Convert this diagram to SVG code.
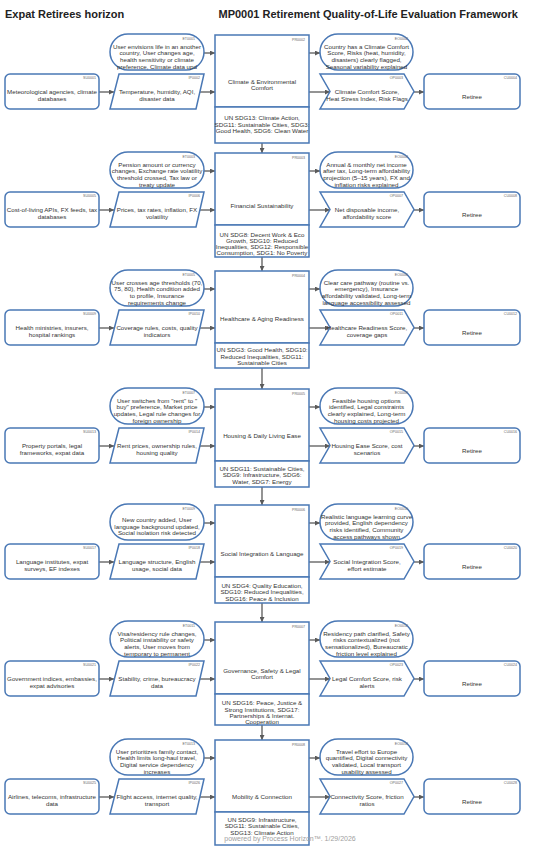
<svg xmlns="http://www.w3.org/2000/svg" width="546" height="846" viewBox="0 0 546 846">
<style>
.n{fill:#fff;stroke:#4a78b5;stroke-width:1.5}
.t{font-family:"Liberation Sans",Arial,sans-serif;font-size:6.2px;fill:#333;text-anchor:middle}
.id{font-family:"Liberation Sans",Arial,sans-serif;font-size:3.6px;fill:#666;text-anchor:end}
.h{font-family:"Liberation Sans",Arial,sans-serif;font-weight:bold;font-size:11px;fill:#222}
.c{stroke:#5a5a5a;stroke-width:1.3;fill:none;marker-end:url(#ah)}
.f{font-family:"Liberation Sans",Arial,sans-serif;font-size:7px;fill:#a0a0a0;text-anchor:middle}
</style>
<defs>
<marker id="ah" viewBox="0 0 6 6" refX="6" refY="3" markerWidth="5" markerHeight="5" markerUnits="userSpaceOnUse" orient="auto"><path d="M0,0L6,3L0,6z" fill="#5a5a5a"/></marker>
</defs>
<rect width="546" height="846" fill="#fff"/>
<text class="h" x="5" y="18">Expat Retirees horizon</text>
<text class="h" x="518" y="18" text-anchor="end">MP0001 Retirement Quality-of-Life Evaluation Framework</text>

<g id="connectors">
<g transform="translate(0,35)"><path class="c" d="M99,57H114"/><path class="c" d="M200,57H215"/><path class="c" d="M309,57H330"/><path class="c" d="M414,57H424"/><path class="c" d="M204,18H215"/><path class="c" d="M309,18H320"/><path class="c" d="M262,108V118"/></g>
<g transform="translate(0,153)"><path class="c" d="M99,57H114"/><path class="c" d="M200,57H215"/><path class="c" d="M309,57H330"/><path class="c" d="M414,57H424"/><path class="c" d="M204,18H215"/><path class="c" d="M309,18H320"/><path class="c" d="M262,104V118"/></g>
<g transform="translate(0,271)"><path class="c" d="M99,57H114"/><path class="c" d="M200,57H215"/><path class="c" d="M309,57H330"/><path class="c" d="M414,57H424"/><path class="c" d="M204,18H215"/><path class="c" d="M309,18H320"/><path class="c" d="M262,97V118"/></g>
<g transform="translate(0,389)"><path class="c" d="M99,57H114"/><path class="c" d="M200,57H215"/><path class="c" d="M309,57H330"/><path class="c" d="M414,57H424"/><path class="c" d="M204,18H215"/><path class="c" d="M309,18H320"/><path class="c" d="M262,98V116"/></g>
<g transform="translate(0,505)"><path class="c" d="M99,57H114"/><path class="c" d="M200,57H215"/><path class="c" d="M309,57H330"/><path class="c" d="M414,57H424"/><path class="c" d="M204,18H215"/><path class="c" d="M309,18H320"/><path class="c" d="M262,98V117"/></g>
<g transform="translate(0,622)"><path class="c" d="M99,57H114"/><path class="c" d="M200,57H215"/><path class="c" d="M309,57H330"/><path class="c" d="M414,57H424"/><path class="c" d="M204,18H215"/><path class="c" d="M309,18H320"/><path class="c" d="M262,103V118"/></g>
<g transform="translate(0,740)"><path class="c" d="M99,57H114"/><path class="c" d="M200,57H215"/><path class="c" d="M309,57H330"/><path class="c" d="M414,57H424"/><path class="c" d="M204,18H215"/><path class="c" d="M309,18H320"/></g>
</g>

<!-- Row 1 -->
<g transform="translate(0,35)">
<g id="ET0001"><rect class="n" x="110" y="-1" width="94" height="36" rx="18"/><text class="id" x="195" y="5">ET0001</text><text class="t"><tspan x="157" y="13.5">User envisions life in an another</tspan><tspan x="157" y="20.2">country, User changes age,</tspan><tspan x="157" y="26.9">health sensitivity or climate</tspan><tspan x="157" y="33.6">preference, Climate data upd</tspan></text></g>
<g id="PR0002"><rect class="n" x="215" y="0" width="94" height="72"/><text class="id" x="305" y="5.5">PR0002</text><text class="t"><tspan x="262" y="48.7">Climate &amp; Environmental</tspan><tspan x="262" y="55.3">Comfort</tspan></text></g>
<g id="SDG-1"><rect class="n" x="215" y="72" width="94" height="36"/><text class="t"><tspan x="262" y="85.3">UN SDG13: Climate Action,</tspan><tspan x="262" y="91.8">SDG11: Sustainable Cities, SDG3:</tspan><tspan x="262" y="98.3">Good Health, SDG6: Clean Water</tspan></text></g>
<g id="EO0002"><rect class="n" x="320" y="-1" width="93" height="36" rx="18"/><text class="id" x="408" y="5">EO0002</text><text class="t"><tspan x="366.5" y="13.5">Country has a Climate Comfort</tspan><tspan x="366.5" y="20.2">Score, Risks (heat, humidity,</tspan><tspan x="366.5" y="26.9">disasters) clearly flagged,</tspan><tspan x="366.5" y="33.6">Seasonal variability explained</tspan></text></g>
<g id="SU0001"><rect class="n" x="5" y="39" width="94" height="35" rx="5"/><text class="id" x="96" y="44">SU0001</text><text class="t"><tspan x="52" y="59.3">Meteorological agencies, climate</tspan><tspan x="52" y="66">databases</tspan></text></g>
<g id="IP0002"><polygon class="n" points="119,39 204,39 196,74 110,74"/><text class="id" x="200" y="44">IP0002</text><text class="t"><tspan x="157" y="59.3">Temperature, humidity, AQI,</tspan><tspan x="157" y="66">disaster data</tspan></text></g>
<g id="OP0003"><polygon class="n" points="320,39 404,39 414,56.5 404,74 320,74 330,56.5"/><text class="id" x="403" y="44">OP0003</text><text class="t"><tspan x="367" y="59.3">Climate Comfort Score,</tspan><tspan x="367" y="66">Heat Stress Index, Risk Flags</tspan></text></g>
<g id="CU0004"><rect class="n" x="424" y="39" width="96" height="35" rx="5"/><text class="id" x="517" y="44">CU0004</text><text class="t" x="472" y="63.5">Retiree</text></g>
</g>

<!-- Row 2 -->
<g transform="translate(0,153)">
<g id="ET0003"><rect class="n" x="110" y="-1" width="94" height="36" rx="18"/><text class="id" x="195" y="5">ET0003</text><text class="t"><tspan x="157" y="13.5">Pension amount or currency</tspan><tspan x="157" y="20.2">changes, Exchange rate volatility</tspan><tspan x="157" y="26.9">threshold crossed, Tax law or</tspan><tspan x="157" y="33.6">treaty update</tspan></text></g>
<g id="PR0003"><rect class="n" x="215" y="0" width="94" height="72"/><text class="id" x="305" y="5.5">PR0003</text><text class="t" x="262" y="54.7">Financial Sustainability</text></g>
<g id="SDG-2"><rect class="n" x="215" y="72" width="94" height="32"/><text class="t"><tspan x="262" y="84">UN SDG8: Decent Work &amp; Eco</tspan><tspan x="262" y="90">Growth, SDG10: Reduced</tspan><tspan x="262" y="96">Inequalities, SDG12: Responsible</tspan><tspan x="262" y="102">Consumption, SDG1: No Poverty</tspan></text></g>
<g id="EO0004"><rect class="n" x="320" y="-1" width="93" height="36" rx="18"/><text class="id" x="408" y="5">EO0004</text><text class="t"><tspan x="366.5" y="13.5">Annual &amp; monthly net income</tspan><tspan x="366.5" y="20.2">after tax, Long-term affordability</tspan><tspan x="366.5" y="26.9">projection (5–15 years), FX and</tspan><tspan x="366.5" y="33.6">inflation risks explained</tspan></text></g>
<g id="SU0005"><rect class="n" x="5" y="39" width="94" height="35" rx="5"/><text class="id" x="96" y="44">SU0005</text><text class="t"><tspan x="52" y="59.3">Cost-of-living APIs, FX feeds, tax</tspan><tspan x="52" y="66">databases</tspan></text></g>
<g id="IP0006"><polygon class="n" points="119,39 204,39 196,74 110,74"/><text class="id" x="200" y="44">IP0006</text><text class="t"><tspan x="157" y="59.3">Prices, tax rates, inflation, FX</tspan><tspan x="157" y="66">volatility</tspan></text></g>
<g id="OP0007"><polygon class="n" points="320,39 404,39 414,56.5 404,74 320,74 330,56.5"/><text class="id" x="403" y="44">OP0007</text><text class="t"><tspan x="367" y="59.3">Net disposable income,</tspan><tspan x="367" y="66">affordability score</tspan></text></g>
<g id="CU0008"><rect class="n" x="424" y="39" width="96" height="35" rx="5"/><text class="id" x="517" y="44">CU0008</text><text class="t" x="472" y="63.5">Retiree</text></g>
</g>

<!-- Row 3 -->
<g transform="translate(0,271)">
<g id="ET0005"><rect class="n" x="110" y="-1" width="94" height="36" rx="18"/><text class="id" x="195" y="5">ET0005</text><text class="t"><tspan x="157" y="13.5">User crosses age thresholds (70,</tspan><tspan x="157" y="20.2">75, 80), Health condition added</tspan><tspan x="157" y="26.9">to profile, Insurance</tspan><tspan x="157" y="33.6">requirements change</tspan></text></g>
<g id="PR0004"><rect class="n" x="215" y="0" width="94" height="72"/><text class="id" x="305" y="5.5">PR0004</text><text class="t" x="262" y="50.3">Healthcare &amp; Aging Readiness</text></g>
<g id="SDG-3"><rect class="n" x="215" y="72" width="94" height="25"/><text class="t"><tspan x="262" y="81">UN SDG3: Good Health, SDG10:</tspan><tspan x="262" y="87.5">Reduced Inequalities, SDG11:</tspan><tspan x="262" y="94">Sustainable Cities</tspan></text></g>
<g id="EO0006"><rect class="n" x="320" y="-1" width="93" height="36" rx="18"/><text class="id" x="408" y="5">EO0006</text><text class="t"><tspan x="366.5" y="13.5">Clear care pathway (routine vs.</tspan><tspan x="366.5" y="20.2">emergency), Insurance</tspan><tspan x="366.5" y="26.9">affordability validated, Long-term</tspan><tspan x="366.5" y="33.6">language accessibility assessed</tspan></text></g>
<g id="SU0009"><rect class="n" x="5" y="39" width="94" height="35" rx="5"/><text class="id" x="96" y="44">SU0009</text><text class="t"><tspan x="52" y="59.3">Health ministries, insurers,</tspan><tspan x="52" y="66">hospital rankings</tspan></text></g>
<g id="IP0010"><polygon class="n" points="119,39 204,39 196,74 110,74"/><text class="id" x="200" y="44">IP0010</text><text class="t"><tspan x="157" y="59.3">Coverage rules, costs, quality</tspan><tspan x="157" y="66">indicators</tspan></text></g>
<g id="OP0011"><polygon class="n" points="320,39 404,39 414,56.5 404,74 320,74 330,56.5"/><text class="id" x="403" y="44">OP0011</text><text class="t"><tspan x="367" y="59.3">Healthcare Readiness Score,</tspan><tspan x="367" y="66">coverage gaps</tspan></text></g>
<g id="CU0012"><rect class="n" x="424" y="39" width="96" height="35" rx="5"/><text class="id" x="517" y="44">CU0012</text><text class="t" x="472" y="63.5">Retiree</text></g>
</g>

<!-- Row 4 -->
<g transform="translate(0,389)">
<g id="ET0007"><rect class="n" x="110" y="-1" width="94" height="36" rx="18"/><text class="id" x="195" y="5">ET0007</text><text class="t"><tspan x="157" y="13.5">User switches from "rent" to "</tspan><tspan x="157" y="20.2">buy" preference, Market price</tspan><tspan x="157" y="26.9">updates, Legal rule changes for</tspan><tspan x="157" y="33.6">foreign ownership</tspan></text></g>
<g id="PR0005"><rect class="n" x="215" y="0" width="94" height="72"/><text class="id" x="305" y="5.5">PR0005</text><text class="t" x="262" y="49">Housing &amp; Daily Living Ease</text></g>
<g id="SDG-4"><rect class="n" x="215" y="72" width="94" height="26"/><text class="t"><tspan x="262" y="81.7">UN SDG11: Sustainable Cities,</tspan><tspan x="262" y="88.2">SDG9: Infrastructure, SDG6:</tspan><tspan x="262" y="94.7">Water, SDG7: Energy</tspan></text></g>
<g id="EO0008"><rect class="n" x="320" y="-1" width="93" height="36" rx="18"/><text class="id" x="408" y="5">EO0008</text><text class="t"><tspan x="366.5" y="13.5">Feasible housing options</tspan><tspan x="366.5" y="20.2">identified, Legal constraints</tspan><tspan x="366.5" y="26.9">clearly explained, Long-term</tspan><tspan x="366.5" y="33.6">housing costs projected</tspan></text></g>
<g id="SU0013"><rect class="n" x="5" y="39" width="94" height="35" rx="5"/><text class="id" x="96" y="44">SU0013</text><text class="t"><tspan x="52" y="59.3">Property portals, legal</tspan><tspan x="52" y="66">frameworks, expat data</tspan></text></g>
<g id="IP0014"><polygon class="n" points="119,39 204,39 196,74 110,74"/><text class="id" x="200" y="44">IP0014</text><text class="t"><tspan x="157" y="59.3">Rent prices, ownership rules,</tspan><tspan x="157" y="66">housing quality</tspan></text></g>
<g id="OP0015"><polygon class="n" points="320,39 404,39 414,56.5 404,74 320,74 330,56.5"/><text class="id" x="403" y="44">OP0015</text><text class="t"><tspan x="367" y="59.3">Housing Ease Score, cost</tspan><tspan x="367" y="66">scenarios</tspan></text></g>
<g id="CU0016"><rect class="n" x="424" y="39" width="96" height="35" rx="5"/><text class="id" x="517" y="44">CU0016</text><text class="t" x="472" y="63.5">Retiree</text></g>
</g>

<!-- Row 5 -->
<g transform="translate(0,505)">
<g id="ET0009"><rect class="n" x="110" y="-1" width="94" height="36" rx="18"/><text class="id" x="195" y="5">ET0009</text><text class="t"><tspan x="157" y="17">New country added, User</tspan><tspan x="157" y="23.7">language background updated,</tspan><tspan x="157" y="30.3">Social isolation risk detected</tspan></text></g>
<g id="PR0006"><rect class="n" x="215" y="0" width="94" height="72"/><text class="id" x="305" y="5.5">PR0006</text><text class="t" x="262" y="50.7">Social Integration &amp; Language</text></g>
<g id="SDG-5"><rect class="n" x="215" y="72" width="94" height="26"/><text class="t"><tspan x="262" y="83">UN SDG4: Quality Education,</tspan><tspan x="262" y="89.3">SDG10: Reduced Inequalities,</tspan><tspan x="262" y="95.6">SDG16: Peace &amp; Inclusion</tspan></text></g>
<g id="EO0010"><rect class="n" x="320" y="-1" width="93" height="36" rx="18"/><text class="id" x="408" y="5">EO0010</text><text class="t"><tspan x="366.5" y="13.5">Realistic language learning curve</tspan><tspan x="366.5" y="20.2">provided, English dependency</tspan><tspan x="366.5" y="26.9">risks identified, Community</tspan><tspan x="366.5" y="33.6">access pathways shown</tspan></text></g>
<g id="SU0017"><rect class="n" x="5" y="39" width="94" height="35" rx="5"/><text class="id" x="96" y="44">SU0017</text><text class="t"><tspan x="52" y="59.3">Language institutes, expat</tspan><tspan x="52" y="66">surveys, EF indexes</tspan></text></g>
<g id="IP0018"><polygon class="n" points="119,39 204,39 196,74 110,74"/><text class="id" x="200" y="44">IP0018</text><text class="t"><tspan x="157" y="59.3">Language structure, English</tspan><tspan x="157" y="66">usage, social data</tspan></text></g>
<g id="OP0019"><polygon class="n" points="320,39 404,39 414,56.5 404,74 320,74 330,56.5"/><text class="id" x="403" y="44">OP0019</text><text class="t"><tspan x="367" y="59.3">Social Integration Score,</tspan><tspan x="367" y="66">effort estimate</tspan></text></g>
<g id="CU0020"><rect class="n" x="424" y="39" width="96" height="35" rx="5"/><text class="id" x="517" y="44">CU0020</text><text class="t" x="472" y="63.5">Retiree</text></g>
</g>

<!-- Row 6 -->
<g transform="translate(0,622)">
<g id="ET0011"><rect class="n" x="110" y="-1" width="94" height="36" rx="18"/><text class="id" x="195" y="5">ET0011</text><text class="t"><tspan x="157" y="13.5">Visa/residency rule changes,</tspan><tspan x="157" y="20.2">Political instability or safety</tspan><tspan x="157" y="26.9">alerts, User moves from</tspan><tspan x="157" y="33.6">temporary to permanent</tspan></text></g>
<g id="PR0007"><rect class="n" x="215" y="0" width="94" height="72"/><text class="id" x="305" y="5.5">PR0007</text><text class="t"><tspan x="262" y="50.7">Governance, Safety &amp; Legal</tspan><tspan x="262" y="57.3">Comfort</tspan></text></g>
<g id="SDG-6"><rect class="n" x="215" y="72" width="94" height="31"/><text class="t"><tspan x="262" y="83.3">UN SDG16: Peace, Justice &amp;</tspan><tspan x="262" y="89.6">Strong Institutions, SDG17:</tspan><tspan x="262" y="95.9">Partnerships &amp; Internat.</tspan><tspan x="262" y="102.2">Cooperation</tspan></text></g>
<g id="EO0012"><rect class="n" x="320" y="-1" width="93" height="36" rx="18"/><text class="id" x="408" y="5">EO0012</text><text class="t"><tspan x="366.5" y="13.5">Residency path clarified, Safety</tspan><tspan x="366.5" y="20.2">risks contextualized (not</tspan><tspan x="366.5" y="26.9">sensationalized), Bureaucratic</tspan><tspan x="366.5" y="33.6">friction level explained</tspan></text></g>
<g id="SU0021"><rect class="n" x="5" y="39" width="94" height="35" rx="5"/><text class="id" x="96" y="44">SU0021</text><text class="t"><tspan x="52" y="59.3">Government indices, embassies,</tspan><tspan x="52" y="66">expat advisories</tspan></text></g>
<g id="IP0022"><polygon class="n" points="119,39 204,39 196,74 110,74"/><text class="id" x="200" y="44">IP0022</text><text class="t"><tspan x="157" y="59.3">Stability, crime, bureaucracy</tspan><tspan x="157" y="66">data</tspan></text></g>
<g id="OP0023"><polygon class="n" points="320,39 404,39 414,56.5 404,74 320,74 330,56.5"/><text class="id" x="403" y="44">OP0023</text><text class="t"><tspan x="367" y="59.3">Legal Comfort Score, risk</tspan><tspan x="367" y="66">alerts</tspan></text></g>
<g id="CU0024"><rect class="n" x="424" y="39" width="96" height="35" rx="5"/><text class="id" x="517" y="44">CU0024</text><text class="t" x="472" y="63.5">Retiree</text></g>
</g>

<!-- Row 7 -->
<g transform="translate(0,740)">
<g id="ET0013"><rect class="n" x="110" y="-1" width="94" height="36" rx="18"/><text class="id" x="195" y="5">ET0013</text><text class="t"><tspan x="157" y="13.5">User prioritizes family contact,</tspan><tspan x="157" y="20.2">Health limits long-haul travel,</tspan><tspan x="157" y="26.9">Digital service dependency</tspan><tspan x="157" y="33.6">increases</tspan></text></g>
<g id="PR0008"><rect class="n" x="215" y="0" width="94" height="72"/><text class="id" x="305" y="5.5">PR0008</text><text class="t" x="262" y="59.3">Mobility &amp; Connection</text></g>
<g id="SDG-7"><rect class="n" x="215" y="72" width="94" height="33"/><text class="t"><tspan x="262" y="81.7">UN SDG9: Infrastructure,</tspan><tspan x="262" y="88.2">SDG11: Sustainable Cities,</tspan><tspan x="262" y="94.7">SDG13: Climate Action</tspan></text></g>
<g id="EO0014"><rect class="n" x="320" y="-1" width="93" height="36" rx="18"/><text class="id" x="408" y="5">EO0014</text><text class="t"><tspan x="366.5" y="13.5">Travel effort to Europe</tspan><tspan x="366.5" y="20.2">quantified, Digital connectivity</tspan><tspan x="366.5" y="26.9">validated, Local transport</tspan><tspan x="366.5" y="33.6">usability assessed</tspan></text></g>
<g id="SU0025"><rect class="n" x="5" y="39" width="94" height="35" rx="5"/><text class="id" x="96" y="44">SU0025</text><text class="t"><tspan x="52" y="59.3">Airlines, telecoms, infrastructure</tspan><tspan x="52" y="66">data</tspan></text></g>
<g id="IP0026"><polygon class="n" points="119,39 204,39 196,74 110,74"/><text class="id" x="200" y="44">IP0026</text><text class="t"><tspan x="157" y="59.3">Flight access, internet quality,</tspan><tspan x="157" y="66">transport</tspan></text></g>
<g id="OP0027"><polygon class="n" points="320,39 404,39 414,56.5 404,74 320,74 330,56.5"/><text class="id" x="403" y="44">OP0027</text><text class="t"><tspan x="367" y="59.3">Connectivity Score, friction</tspan><tspan x="367" y="66">ratios</tspan></text></g>
<g id="CU0028"><rect class="n" x="424" y="39" width="96" height="35" rx="5"/><text class="id" x="517" y="44">CU0028</text><text class="t" x="472" y="63.5">Retiree</text></g>
</g>

<text class="f" x="290" y="840.5">powered by Process Horizon™. 1/29/2026</text>
</svg>
